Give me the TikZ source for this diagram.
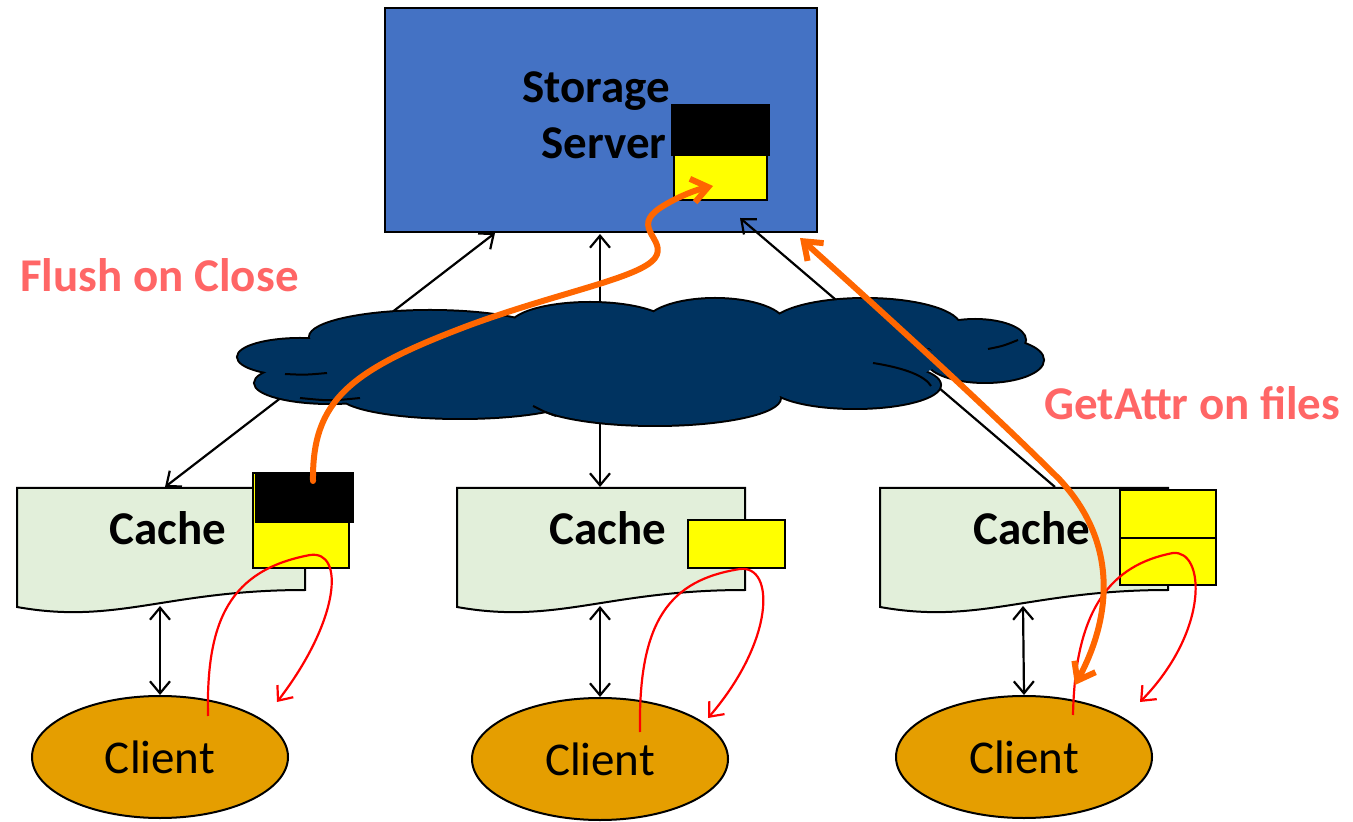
\documentclass[tikz,border=0pt]{standalone}
\usepackage{fontspec}
\setmainfont{Carlito}
\usetikzlibrary{arrows.meta,shapes.geometric}

\definecolor{serverblue}{RGB}{68,114,196}
\definecolor{cachegreen}{RGB}{226,239,218}
\definecolor{clientgold}{RGB}{229,158,0}
\definecolor{netnavy}{RGB}{0,51,96}
\definecolor{labelred}{RGB}{255,102,102}
\definecolor{flowor}{RGB}{255,102,0}
\definecolor{blockyellow}{RGB}{255,255,0}

\tikzset{
  bigtext/.style={font=\fontsize{23.5}{28}\selectfont},
  boldtext/.style={font=\fontsize{23.5}{28}\selectfont\bfseries},
  outlined/.style={draw=black, line width=1pt},
  serverbox/.style={outlined, fill=serverblue, rectangle, minimum width=216pt, minimum height=112pt, inner sep=0pt},
  cachebox/.style={outlined, fill=cachegreen},
  clientbox/.style={outlined, fill=clientgold, ellipse, minimum width=128pt, minimum height=61pt, inner sep=0pt, bigtext},
  blockbox/.style={draw=black, line width=1pt},
  link/.style={draw=black, line width=1.1pt, {Straight Barb[length=6pt,width=10pt]}-{Straight Barb[length=6pt,width=10pt]}},
  uplink/.style={draw=black, line width=1.1pt, -{Straight Barb[length=6pt,width=10pt]}},
  localflow/.style={draw=red, line width=1.1pt, -{Straight Barb[length=6pt,width=10pt]}},
  netflow/.style={draw=flowor, line width=3pt, line cap=round},
}

\begin{document}
\begin{tikzpicture}[x=0.5pt, y=-0.5pt]
\useasboundingbox (0,0) rectangle (1353,822);

% ---- storage server ----
\node[serverbox] (server) at (601,120) {};
\node[boldtext, align=center] (servertext) at (596,115) {Storage\\\,\,Server};
\draw[blockbox, fill=blockyellow] (674,155) rectangle (767,200);
\draw[blockbox, fill=black] (672,105) rectangle (769,155);

% ---- caches (document sheets) ----
\foreach \x in {17,457,880}{
  \draw[cachebox, shift={(\x,0)}] (0,488) -- (288,488) -- (288,590)
     .. controls (150,590) and (100,625) .. (0,607) -- cycle;
}
\node[boldtext] (cache1) at (168,528) {Cache};
\node[boldtext] (cache2) at (608,528) {Cache};
\node[boldtext] (cache3) at (1032,528) {Cache};

% ---- clients ----
\node[clientbox] (client1) at (160,757) {Client};
\node[clientbox] (client2) at (600,759) {Client};
\node[clientbox] (client3) at (1024,757) {Client};

% ---- anchor points for the links ----
\coordinate (s1) at (495,233);
\coordinate (s2) at (600,234);
\coordinate (s3) at (740,218);
\coordinate (c1t) at (165,487);
\coordinate (c2t) at (600,487);
\coordinate (c3t) at (1055,487);
\coordinate (c1b) at (160,606);
\coordinate (c2b) at (600,606);
\coordinate (c3b) at (1023,606);

% server <-> caches (behind the network cloud)
\draw[link] (c1t) -- (s1);
\draw[link] (c2t) -- (s2);
\draw[uplink] (c3t) -- (s3);

% caches <-> clients
\draw[link] (c1b) -- (client1.north);
\draw[link] (c2b) -- (client2.north);
\draw[link] (c3b) -- (client3.north);

% ---- network cloud ----
\def\puffs{
  (300,357) ellipse [x radius=31pt, y radius=9pt]
  (330,383) ellipse [x radius=37.5pt, y radius=10pt]
  (430,337) ellipse [x radius=60pt, y radius=13pt]
  (460,395) ellipse [x radius=60pt, y radius=11.5pt]
  (590,327) ellipse [x radius=40pt, y radius=12pt]
  (655,398) ellipse [x radius=62.5pt, y radius=13.5pt]
  (715,325) ellipse [x radius=35pt, y radius=13pt]
  (865,327) ellipse [x radius=47.5pt, y radius=14pt]
  (975,340) ellipse [x radius=25pt, y radius=10pt]
  (985,360) ellipse [x radius=29pt, y radius=11pt]
  (855,385) ellipse [x radius=42.5pt, y radius=11.5pt]
}
\draw[black, line width=2pt] \puffs;
\fill[netnavy] \puffs;
\fill[netnavy] (640,360) ellipse [x radius=150pt, y radius=20pt];
% inner fold lines of the cloud
\draw[black, line width=1pt]
  (285,374) .. controls (305,375) .. (327,373)
  (300,398) .. controls (330,401) .. (360,398)
  (533,406) .. controls (545,412) .. (556,416)
  (873,363) .. controls (905,368) and (925,376) .. (931,386)
  (988,349) .. controls (1003,346) .. (1018,340);

% ---- cache blocks ----
\draw[blockbox, fill=blockyellow] (253,473) rectangle (349,568);
\draw[blockbox, fill=black] (256,473) rectangle (353,522);
\draw[blockbox, fill=blockyellow] (688,520) rectangle (785,568);
\draw[blockbox, fill=blockyellow] (1120,490) rectangle (1216,538);
\draw[blockbox, fill=blockyellow] (1120,538) rectangle (1216,585);

% ---- local read/write loops between client and cache ----
\draw[localflow] (208,716) .. controls (206,620) and (230,570) .. (310,555)
                 .. controls (345,550) and (340,620) .. (277,702);
\draw[localflow] (640,732) .. controls (638,620) and (670,580) .. (740,569)
                 .. controls (775,565) and (775,640) .. (708,718);
\draw[localflow] (1073,715) .. controls (1075,610) and (1110,565) .. (1173,553)
                 .. controls (1205,550) and (1210,630) .. (1140,702);

% ---- protocol messages ----
\draw[netflow, -{Straight Barb[length=8pt,width=12pt]}]
  (313,481) .. controls (312,400) and (350,370) .. (470,325)
  .. controls (560,292) and (640,278) .. (655,258)
  .. controls (668,240) and (630,228) .. (660,208)
  .. controls (675,198) and (695,190) .. (713,186);
\draw[netflow, {Straight Barb[length=8pt,width=12pt]}-{Straight Barb[length=8pt,width=12pt]}]
  (800,238) .. controls (880,310) and (990,410) .. (1060,480)
  .. controls (1120,545) and (1110,620) .. (1075,685);

% ---- labels ----
\node[boldtext, text=labelred, anchor=west, inner sep=0pt] (flushlbl) at (20,275) {Flush on Close};
\node[boldtext, text=labelred, anchor=west, inner sep=0pt] (getattrlbl) at (1044,403) {GetAttr on files};
\end{tikzpicture}
\end{document}
